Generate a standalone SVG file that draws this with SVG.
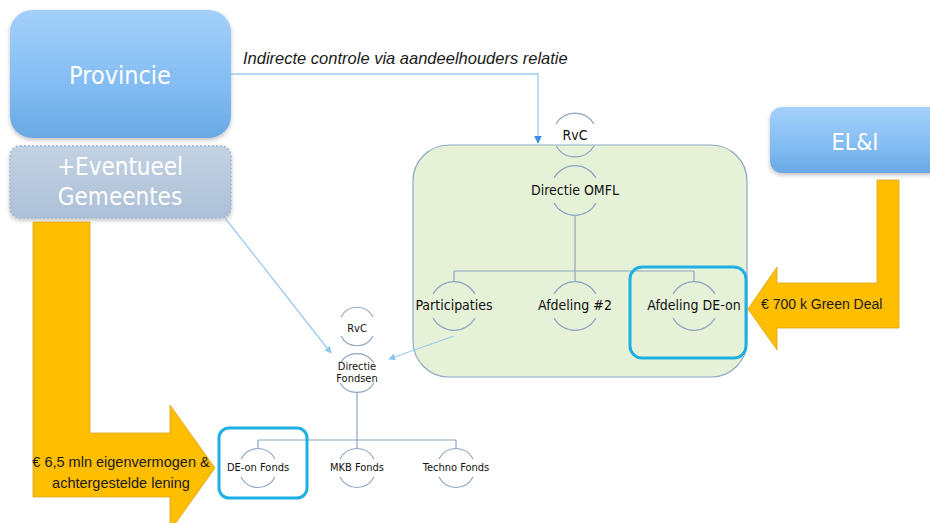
<svg xmlns="http://www.w3.org/2000/svg" width="930" height="523" viewBox="0 0 930 523">
<defs>
<linearGradient id="gBlue" x1="0" y1="0" x2="0" y2="1">
<stop offset="0" stop-color="#a4d0fa"/>
<stop offset="0.6" stop-color="#82bcf2"/>
<stop offset="1" stop-color="#6aa8e4"/>
</linearGradient>
<linearGradient id="gGrey" x1="0" y1="0" x2="0" y2="1">
<stop offset="0" stop-color="#c4d2e2"/>
<stop offset="1" stop-color="#acc0d8"/>
</linearGradient>
<marker id="ah" viewBox="0 0 10 10" refX="9" refY="5" markerWidth="7" markerHeight="7" orient="auto" markerUnits="userSpaceOnUse">
<path d="M0,0 L10,5 L0,10 z" fill="#8cc4f4"/>
</marker>
<marker id="ah2" viewBox="0 0 10 10" refX="9" refY="5" markerWidth="8" markerHeight="8" orient="auto" markerUnits="userSpaceOnUse">
<path d="M0,0 L10,5 L0,10 z" fill="#3d8fe0"/>
</marker>
<filter id="sh" x="-10%" y="-10%" width="120%" height="130%">
<feDropShadow dx="0" dy="2" stdDeviation="2" flood-color="#000" flood-opacity="0.25"/>
</filter>
</defs>
<style>
.big{font-family:"DejaVu Sans Condensed","DejaVu Sans",sans-serif;fill:#ffffff;text-anchor:middle}
.nd{font-family:"DejaVu Sans Condensed","DejaVu Sans",sans-serif;fill:#111111;text-anchor:middle}
.arc{fill:none;stroke:#8ea4c0;stroke-width:1.2}
.tree{fill:none;stroke:#8ea4c0;stroke-width:1.2}
.hl{fill:none;stroke:#1eb0e4;stroke-width:3}
.arrow{fill:#ffbe00;stroke:#d9a21a;stroke-width:0.8}
.lbl{font-family:"Liberation Sans",Arial,sans-serif;fill:#1a1a1a}
.lc{fill:none;stroke:#9ccaf2;stroke-width:1.3}
</style>

<g id="provincie">
<rect x="10" y="10" width="221" height="128" rx="22" fill="url(#gBlue)" filter="url(#sh)"/>
<text class="big" x="120" y="84" font-size="25">Provincie</text>
</g>

<g id="gemeentes">
<rect x="10" y="146" width="221" height="72" rx="10" fill="url(#gGrey)" stroke="#9fb6d2" stroke-width="1.5" stroke-dasharray="2,2" filter="url(#sh)"/>
<text class="big" x="120" y="175" font-size="24">+Eventueel</text>
<text class="big" x="120" y="205" font-size="24">Gemeentes</text>
</g>

<g id="eli">
<rect x="770" y="107" width="180" height="66" rx="12" fill="url(#gBlue)" filter="url(#sh)"/>
<text class="big" x="855" y="150" font-size="23">EL&amp;I</text>
</g>

<g id="omfl">
<rect x="413" y="145" width="334" height="232" rx="36" fill="#e6f2d8" stroke="#8ea8c4" stroke-width="1.2"/>
</g>

<g id="connectors">
<path class="lc" d="M231,74 H538 V143" stroke="#5aa2e4" marker-end="url(#ah2)"/>
<path class="lc" d="M225,218 L331,353" marker-end="url(#ah)"/>
<path class="lc" d="M454,336 L389,359" marker-end="url(#ah)"/>
<path class="tree" d="M575,215 V271 M454,271 H694 M454,271 V282 M575,271 V282 M694,271 V282"/>
<path class="tree" d="M357,393 V440 M258,440 H456 M258,440 V449 M357,440 V449 M456,440 V449"/>
</g>

<g id="rvc-omfl">
<path class="arc" d="M556,124 A22,22 0 0 1 594,124 M556,146 A22,22 0 0 0 594,146"/>
<text class="nd" x="575" y="140" font-size="14">RvC</text>
</g>
<g id="directie-omfl">
<path class="arc" d="M554,178 A24,24 0 0 1 596,178 M554,203 A24,24 0 0 0 596,203"/>
<text class="nd" x="575" y="195" font-size="14">Directie OMFL</text>
</g>
<g id="participaties">
<path class="arc" d="M433,294 A24,24 0 0 1 475,294 M433,318 A24,24 0 0 0 475,318"/>
<text class="nd" x="454" y="310" font-size="14">Participaties</text>
</g>
<g id="afdeling2">
<path class="arc" d="M554,294 A24,24 0 0 1 596,294 M554,318 A24,24 0 0 0 596,318"/>
<text class="nd" x="575" y="310" font-size="14">Afdeling #2</text>
</g>
<g id="afdeling-deon">
<path class="arc" d="M673,294 A24,24 0 0 1 715,294 M673,318 A24,24 0 0 0 715,318"/>
<text class="nd" x="694" y="310" font-size="14">Afdeling DE-on</text>
<rect class="hl" x="630" y="267" width="116" height="91" rx="12"/>
</g>

<g id="rvc-fondsen">
<path class="arc" d="M341,317 A18,18 0 0 1 373,317 M341,336 A18,18 0 0 0 373,336"/>
<text class="nd" x="357" y="332" font-size="11">RvC</text>
</g>
<g id="directie-fondsen">
<path class="arc" d="M340,363 A20,20 0 0 1 374,363 M340,383 A20,20 0 0 0 374,383"/>
<text class="nd" x="357" y="370" font-size="11">Directie</text>
<text class="nd" x="357" y="382" font-size="11">Fondsen</text>
</g>
<g id="deon-fonds">
<path class="arc" d="M241,459 A19,19 0 0 1 275,459 M241,477 A19,19 0 0 0 275,477"/>
<text class="nd" x="258" y="471" font-size="11">DE-on Fonds</text>
<rect class="hl" x="219" y="428" width="88" height="70" rx="10"/>
</g>
<g id="mkb-fonds">
<path class="arc" d="M340,459 A19,19 0 0 1 374,459 M340,477 A19,19 0 0 0 374,477"/>
<text class="nd" x="357" y="471" font-size="11">MKB Fonds</text>
</g>
<g id="techno-fonds">
<path class="arc" d="M439,459 A19,19 0 0 1 473,459 M439,477 A19,19 0 0 0 473,477"/>
<text class="nd" x="456" y="471" font-size="11">Techno Fonds</text>
</g>

<g id="arrow-eli">
<polygon class="arrow" points="877,180 899,180 899,328 777,328 777,350 748,309 777,267 777,283 877,283"/>
<text class="lbl" x="761" y="309" font-size="14">€ 700 k Green Deal</text>
</g>

<g id="arrow-provincie">
<polygon class="arrow" points="33,222 90,222 90,433 170,433 170,405 215,468 170,531 170,497 33,497"/>
<text class="lbl" x="121" y="467" font-size="14.5" text-anchor="middle">€ 6,5 mln eigenvermogen &amp;</text>
<text class="lbl" x="121" y="488" font-size="14.5" text-anchor="middle">achtergestelde lening</text>
</g>

<g id="label-indirect">
<text class="lbl" x="243" y="64" font-size="16.5" font-style="italic">Indirecte controle via aandeelhouders relatie</text>
</g>
</svg>
